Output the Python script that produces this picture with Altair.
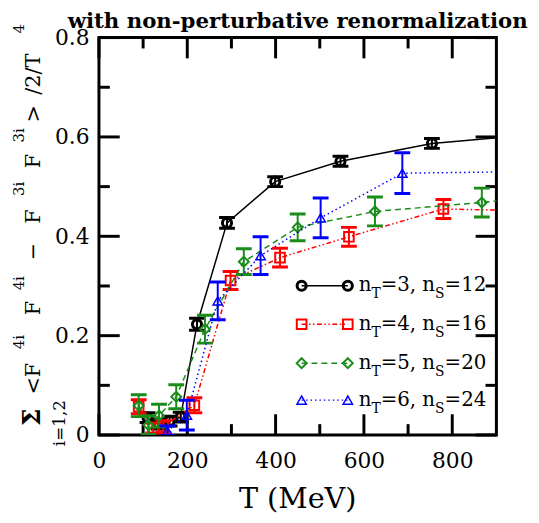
import altair as alt
import pandas as pd

# ---------------- data ----------------
# n_T=3, n_S=12  (black, circles, solid)
T_nt3 = [110, 135, 160, 185, 222, 290, 399, 547, 754, 1000]
V_nt3 = [0.035, 0.022, 0.028, 0.036, 0.223, 0.427, 0.510, 0.551, 0.587, 0.606]
E_nt3 = [0.010, 0.010, 0.010, 0.010, 0.012, 0.011, 0.010, 0.010, 0.010, 0.010]
# n_T=4, n_S=16  (red, squares, dash-dot-dot)
T_nt4 = [90, 123, 146, 216, 298, 410, 566, 780, 1050]
V_nt4 = [0.057, 0.014, 0.017, 0.060, 0.311, 0.357, 0.399, 0.455, 0.450]
E_nt4 = [0.014, 0.010, 0.012, 0.015, 0.018, 0.019, 0.019, 0.019, 0.020]
# n_T=5, n_S=20  (green, diamonds, dashed)
T_nt5 = [90, 112, 136, 175, 240, 328, 450, 625, 867, 1100]
V_nt5 = [0.059, 0.020, 0.039, 0.077, 0.213, 0.349, 0.418, 0.450, 0.468, 0.490]
E_nt5 = [0.022, 0.019, 0.023, 0.024, 0.028, 0.026, 0.027, 0.029, 0.029, 0.030]
# n_T=6, n_S=24  (blue, triangles, dotted)
T_nt6 = [155, 199, 269, 366, 502, 687, 950]
V_nt6 = [0.008, 0.040, 0.270, 0.361, 0.437, 0.527, 0.530]
E_nt6 = [0.010, 0.030, 0.038, 0.038, 0.040, 0.041, 0.040]

X_MAJOR = [0, 200, 400, 600, 800]
X_MINOR = [100, 300, 500, 700]
Y_MAJOR = [0, 0.2, 0.4, 0.6, 0.8]
Y_MINOR = [0.1, 0.3, 0.5, 0.7]

LEGEND_NT = ["3", "4", "5", "6"]
LEGEND_NS = ["12", "16", "20", "24"]

TITLE = "with non-perturbative renormalization"
XTITLE = "T (MeV)"

# ---------------- styling ----------------
FONT = "DejaVu Serif"
W = H = 402
GREEN = "#1a8c1a"
STYLES = [
    dict(color="black", shape="circle", size=85, msw=3.0, dash=None),
    dict(color="#ff0000", shape="square", size=95, msw=2.0, dash=[5, 2.5, 1.5, 2.5, 1.5, 2.5]),
    dict(color=GREEN, shape="diamond", size=100, msw=2.0, dash=[6, 4]),
    dict(color="#0000ff", shape="triangle-up", size=90, msw=1.5, dash=[1.5, 3]),
]
SERIES = [(T_nt3, V_nt3, E_nt3), (T_nt4, V_nt4, E_nt4), (T_nt5, V_nt5, E_nt5), (T_nt6, V_nt6, E_nt6)]

xs = alt.Scale(domain=[0, 900], nice=False, zero=False)
ys = alt.Scale(domain=[0, 0.8], nice=False, zero=False)
xax = alt.Axis(values=X_MAJOR, title=None, ticks=False, tickSize=0, domain=False, grid=False,
               labelPadding=33, labelBaseline="alphabetic", labelFontSize=22, labelFont=FONT,
               labelColor="black", labelFlush=False, labelOverlap=False, format="d")
yax = alt.Axis(values=Y_MAJOR, title=None, ticks=False, tickSize=0, domain=False, grid=False,
               labelPadding=10, labelBaseline="middle", labelFontSize=22, labelFont=FONT,
               labelColor="black", labelFlush=False, labelOverlap=False, format=".1~f")


def X(f):
    return alt.X(f"{f}:Q", scale=xs, axis=xax)


def Y(f):
    return alt.Y(f"{f}:Q", scale=ys, axis=yax)


layers = []

# inward frame ticks
for vals, L in [(X_MAJOR, 21), (X_MINOR, 11)]:
    b = alt.Chart(pd.DataFrame({"t": vals}))
    layers.append(b.mark_rule(color="black", strokeWidth=3).encode(x=X("t"), y=alt.value(H), y2=alt.value(H - L)))
    layers.append(b.mark_rule(color="black", strokeWidth=3).encode(x=X("t"), y=alt.value(0), y2=alt.value(L)))
for vals, L in [(Y_MAJOR, 21), (Y_MINOR, 11)]:
    b = alt.Chart(pd.DataFrame({"t": vals}))
    layers.append(b.mark_rule(color="black", strokeWidth=3).encode(y=Y("t"), x=alt.value(0), x2=alt.value(L)))
    layers.append(b.mark_rule(color="black", strokeWidth=3).encode(y=Y("t"), x=alt.value(W), x2=alt.value(W - L)))

# data series
for (T, V, E), st in zip(SERIES, STYLES):
    df = pd.DataFrame({"T": T, "v": V,
                       "lo": [v - e for v, e in zip(V, E)],
                       "hi": [v + e for v, e in zip(V, E)]})
    b = alt.Chart(df)
    lkw = dict(color=st["color"], strokeWidth=1.5, clip=True)
    if st["dash"]:
        lkw["strokeDash"] = st["dash"]
    layers.append(b.mark_line(**lkw).encode(x=X("T"), y=Y("v")))
    layers.append(b.mark_rule(color=st["color"], strokeWidth=2, clip=True).encode(x=X("T"), y=Y("lo"), y2="hi:Q"))
    for f in ["lo", "hi"]:
        layers.append(b.mark_tick(color=st["color"], orient="horizontal", size=16, thickness=3,
                                  opacity=1, clip=True).encode(x=X("T"), y=Y(f)))
    layers.append(b.mark_point(shape=st["shape"], size=st["size"], filled=False, color=st["color"],
                               strokeWidth=st["msw"], opacity=1, clip=True).encode(x=X("T"), y=Y("v")))

# legend (inside plot, lower right)
LEG_Y = [251, 290, 329.3, 366.7]
LEG_X0, LEG_X1, TXT_X = 205, 251.7, 262.7
ADV = {"n": 0.644, "T": 0.668, "S": 0.685, "=": 0.838, ",": 0.318, " ": 0.318}
for d in "0123456789":
    ADV[d] = 0.636


def width(s, fs):
    return sum(ADV.get(c, 0.6) for c in s) * fs


FS_MAIN, FS_SUB = 20, 14
for row, (nt, ns, st) in enumerate(zip(LEGEND_NT, LEGEND_NS, STYLES)):
    yrow = LEG_Y[row]
    seg = pd.DataFrame({"px": [LEG_X0, LEG_X1], "py": [yrow, yrow]})
    b = alt.Chart(seg)
    lkw = dict(color=st["color"], strokeWidth=1.5)
    if st["dash"]:
        lkw["strokeDash"] = st["dash"]
    enc = dict(x=alt.X("px:Q", scale=None), y=alt.Y("py:Q", scale=None))
    layers.append(b.mark_line(**lkw).encode(**enc))
    layers.append(b.mark_point(shape=st["shape"], size=st["size"], filled=False, color=st["color"],
                               strokeWidth=st["msw"], opacity=1).encode(**enc))
    parts = [("n", False), ("T", True), (f"={nt}, n", False), ("S", True), (f"={ns}", False)]
    xs_, ys_, tx_, fs_ = [], [], [], []
    cur = TXT_X
    for txt, sub in parts:
        fs = FS_SUB if sub else FS_MAIN
        xs_.append(cur)
        ys_.append(yrow + 5.7 + (7.0 if sub else 0))
        tx_.append(txt)
        fs_.append(fs)
        cur += width(txt, fs)
    tdf = pd.DataFrame({"px": xs_, "py": ys_, "txt": tx_, "fs": fs_})
    layers.append(alt.Chart(tdf).mark_text(align="left", baseline="alphabetic", font=FONT, color="black").encode(
        x=alt.X("px:Q", scale=None), y=alt.Y("py:Q", scale=None), text="txt:N", size=alt.Size("fs:Q", scale=None)))

# y-axis title, composed of pieces (rotated)
MAINX, SUPX, SUBX = -59.5, -76, -34
ypieces = pd.DataFrame({
    "txt": ["i=1,2", "<F", "4i", "F", "4i", "\u2212", "F", "3i", "F", "3i", ">", "/2/T", "4"],
    "py":  [390, 345, 308, 273.5, 248.5, 216.5, 181, 153, 125, 99, 77, 37, -9],
    "px":  [SUBX, MAINX, SUPX, MAINX, SUPX, MAINX, MAINX, SUPX, MAINX, SUPX, MAINX, MAINX, SUPX],
    "fs":  [17, 21, 15, 21, 15, 21, 21, 15, 21, 15, 21, 21, 15],
})
layers.append(alt.Chart(ypieces).mark_text(angle=270, align="center", baseline="alphabetic", font=FONT,
                                           color="black").encode(
    x=alt.X("px:Q", scale=None), y=alt.Y("py:Q", scale=None), text="txt:N", size=alt.Size("fs:Q", scale=None)))
sig = pd.DataFrame({"txt": ["\u03a3"], "px": [MAINX], "py": [384]})
layers.append(alt.Chart(sig).mark_text(angle=270, align="center", baseline="alphabetic", font=FONT,
                                       fontSize=25, fontWeight="bold", color="black").encode(
    x=alt.X("px:Q", scale=None), y=alt.Y("py:Q", scale=None), text="txt:N"))

# titles
tt = pd.DataFrame({"txt": [TITLE], "px": [W / 2], "py": [-10]})
layers.append(alt.Chart(tt).mark_text(align="center", baseline="alphabetic", font=FONT, fontSize=21.5,
                                      fontWeight="bold", color="black").encode(
    x=alt.X("px:Q", scale=None), y=alt.Y("py:Q", scale=None), text="txt:N"))
xt = pd.DataFrame({"txt": [XTITLE], "px": [W / 2], "py": [475.7]})
layers.append(alt.Chart(xt).mark_text(align="center", baseline="alphabetic", font=FONT, fontSize=29,
                                      color="black").encode(
    x=alt.X("px:Q", scale=None), y=alt.Y("py:Q", scale=None), text="txt:N"))

chart = alt.layer(*layers).properties(
    width=W, height=H,
    autosize=alt.AutoSizeParams(type="none"),
    padding={"left": 92, "top": 27, "right": 35, "bottom": 80},
    background="white",
).configure_view(stroke="black", strokeWidth=3)

chart.save("out.html", embed_options={"renderer": "svg", "actions": False})
